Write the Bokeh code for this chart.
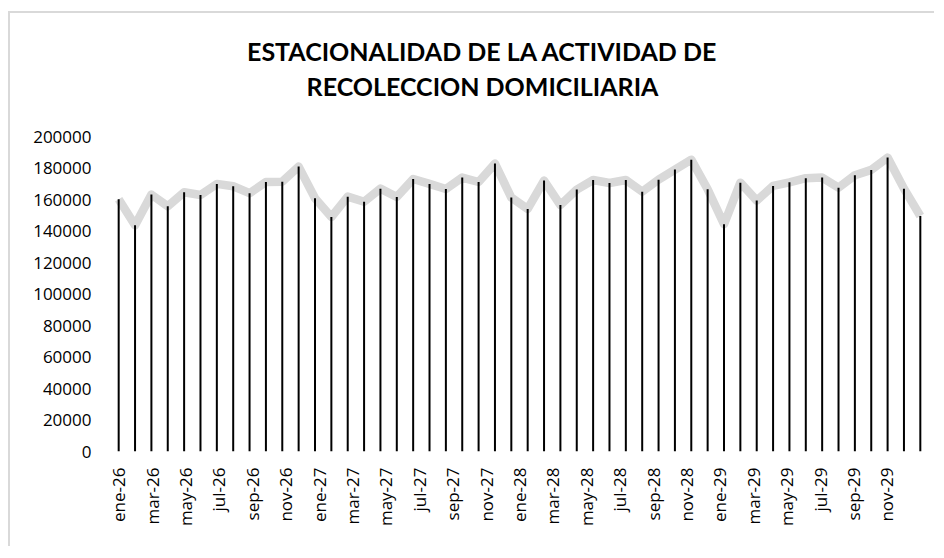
import math
from bokeh.plotting import figure
from bokeh.models import ColumnDataSource, Range1d, FixedTicker, NumeralTickFormatter, Label
from bokeh.embed import file_html
from bokeh.resources import INLINE

# monthly values, ene-26 ... (50 points)
values = [160100, 143600, 163100, 155700, 164600, 162900, 169900, 168400, 164000, 171100,
          171300, 180900, 160800, 148900, 161800, 158600, 166900, 161600, 173000, 169900,
          166700, 173900, 171100, 182800, 161200, 154000, 172000, 156500, 166300, 172400,
          170500, 172400, 165000, 172600, 179000, 185300, 166500, 144300, 170700, 159300,
          168600, 170900, 173500, 173900, 167500, 175400, 178800, 186600, 166900, 149500]
point_index = list(range(len(values)))

tick_labels = ["ene-26", "mar-26", "may-26", "jul-26", "sep-26", "nov-26",
               "ene-27", "mar-27", "may-27", "jul-27", "sep-27", "nov-27",
               "ene-28", "mar-28", "may-28", "jul-28", "sep-28", "nov-28",
               "ene-29", "mar-29", "may-29", "jul-29", "sep-29", "nov-29"]

y_ticks = list(range(0, 200001, 20000))

title_line1 = "ESTACIONALIDAD DE LA ACTIVIDAD DE"
title_line2 = "RECOLECCION DOMICILIARIA"

# layout (pixels)
W, H = 926, 535
mb_left, mb_right, mb_bottom, mb_top = 100, 8, 97, 8
axis_top_px = 123          # where the 200000 tick sits, from canvas top
y_max_tick = y_ticks[-1]
frame_h = H - mb_bottom - mb_top
y_end = y_max_tick * frame_h / (H - mb_bottom - axis_top_px)

src = ColumnDataSource(dict(x=point_index, y=values, y0=[0] * len(values)))

p = figure(width=W, height=H, output_backend="svg", toolbar_location=None,
           x_range=Range1d(-0.5, len(values) - 0.5), y_range=Range1d(0, y_end),
           min_border_left=mb_left, min_border_right=mb_right, min_border_top=mb_top,
           min_border_bottom=mb_bottom)
p.styles = {"border-left": "2px solid #d9d9d9", "border-top": "2px solid #d9d9d9",
            "margin-top": "11px", "margin-left": "8px"}
p.outline_line_color = None
p.background_fill_color = "white"
p.border_fill_color = "white"
p.xgrid.grid_line_color = None
p.ygrid.grid_line_color = None

p.line("x", "y", source=src, line_color="#d9d9d9", line_width=8.5, line_join="round")
p.segment("x", "y0", "x", "y", source=src, line_color="black", line_width=2)

# labels spread evenly across the span of points (last one clipped in original)
step = (len(values) - 1) / len(tick_labels)
tick_pos = [k * step for k in range(len(tick_labels))]
p.xaxis.ticker = FixedTicker(ticks=tick_pos)
p.xaxis.major_label_overrides = {t: lab for t, lab in zip(tick_pos, tick_labels)}
p.xaxis.major_label_orientation = math.pi / 2
p.xaxis.axis_line_color = None
p.xaxis.major_tick_line_color = None
p.xaxis.minor_tick_line_color = None
p.xaxis.major_label_standoff = 10
p.xaxis.major_label_text_font = "Open Sans"
p.xaxis.major_label_text_font_size = "17px"
p.xaxis.major_label_text_color = "#000000"

p.yaxis.ticker = FixedTicker(ticks=y_ticks)
p.yaxis.formatter = NumeralTickFormatter(format="0")
p.yaxis.axis_line_color = None
p.yaxis.major_tick_line_color = None
p.yaxis.minor_tick_line_color = None
p.yaxis.major_label_standoff = 13
p.yaxis.major_label_text_font = "Open Sans"
p.yaxis.major_label_text_font_size = "17px"
p.yaxis.major_label_text_color = "#000000"

# two-line chart title, centred on the chart area (screen units, frame-relative)
frame_bottom = H - mb_bottom
for txt, base_px in ((title_line1, 37), (title_line2, 72)):
    p.add_layout(Label(text=txt, x=372, y=frame_bottom - base_px,
                       x_units="screen", y_units="screen",
                       text_align="center", text_baseline="alphabetic",
                       text_font="Lato", text_font_style="bold",
                       text_font_size="25px", text_color="#000000"))

open("out.html", "w").write(file_html(p, INLINE))
